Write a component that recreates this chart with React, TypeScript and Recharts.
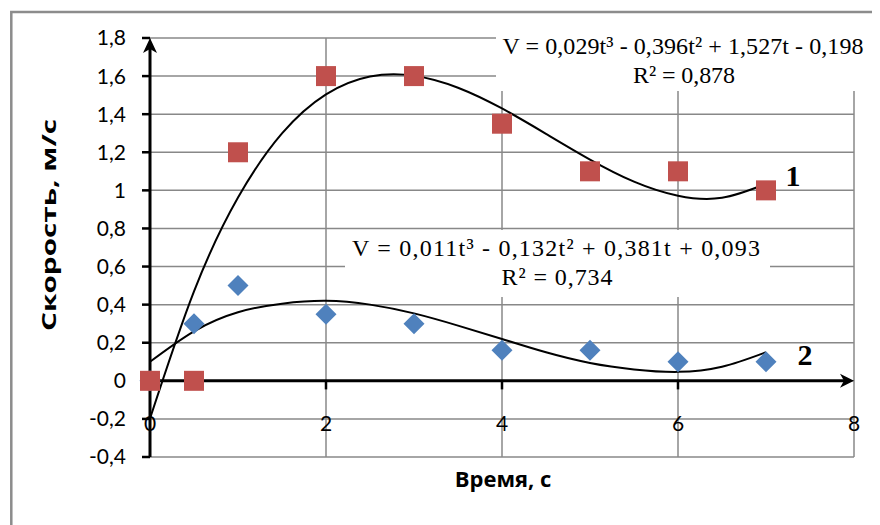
import { ComposedChart, Scatter, Line, XAxis, YAxis, CartesianGrid, ReferenceLine } from 'recharts';

// measured points (t, s -> V, m/s)
const times = [0, 0.5, 1, 2, 3, 4, 5, 6, 7];
const speed1 = [0, 0, 1.2, 1.6, 1.6, 1.35, 1.1, 1.1, 1.0];
const speed2 = [0, 0.3, 0.5, 0.35, 0.3, 0.16, 0.16, 0.1, 0.1];

// trend lines
const trendTimes = [0, 0.5, 1, 1.5, 2, 2.5, 3, 3.5, 4, 4.5, 5, 5.5, 6, 6.5, 7];
const trend1 = [-0.198, 0.47, 0.962, 1.299, 1.504, 1.598, 1.602, 1.539, 1.43, 1.297, 1.162, 1.046, 0.972, 0.961, 1.034];
const trend2 = [0.1, 0.26, 0.36, 0.405, 0.42, 0.4, 0.354, 0.29, 0.22, 0.15, 0.094, 0.06, 0.047, 0.074, 0.15];

const xTicks = [0, 2, 4, 6, 8];
const axisMarks = [2, 4, 6];
const yTicks = [-0.4, -0.2, 0, 0.2, 0.4, 0.6, 0.8, 1, 1.2, 1.4, 1.6, 1.8];

const eq1 = ['V = 0,029t³ - 0,396t² + 1,527t - 0,198', 'R² = 0,878'];
const eq2 = ['V = 0,011t³ - 0,132t² + 0,381t + 0,093', 'R² = 0,734'];

const RED = '#C0504D';
const BLUE = '#4F81BD';
const GRID = '#888888';
const SANS = "Lato, 'Open Sans', sans-serif";
const SERIF = "'Liberation Serif', 'Times New Roman', serif";

const series1 = times.map((t, i) => ({ t, v: speed1[i] }));
const series2 = times.map((t, i) => ({ t, v: speed2[i] }));
const trendData1 = trendTimes.map((t, i) => ({ t, v: trend1[i] }));
const trendData2 = trendTimes.map((t, i) => ({ t, v: trend2[i] }));

const fmt = (v: number) => String(Math.round(v * 10) / 10).replace('.', ',');

const Square = ({ cx, cy }: any) => <rect x={cx - 10} y={cy - 10} width={20} height={20} fill={RED} />;

const Diamond = ({ cx, cy }: any) => (
  <polygon points={`${cx},${cy - 10.5} ${cx + 10.5},${cy} ${cx},${cy + 10.5} ${cx - 10.5},${cy}`} fill={BLUE} />
);

const XTick = ({ x, y, payload }: any) => (
  <text x={x} y={y - 35} textAnchor="middle" dominantBaseline="central" fontSize={21} fontFamily={SANS} fill="#000">
    {payload.value}
  </text>
);

// axis line with a stealth arrow at its far end
const HArrow = (props: any) => {
  const { x1, x2, y1 } = props;
  const left = Math.min(x1, x2);
  const tip = Math.max(x1, x2);
  return (
    <g>
      <line x1={left} y1={y1} x2={tip - 6} y2={y1} stroke="#000" strokeWidth={3} />
      <polygon points={`${tip},${y1} ${tip - 14},${y1 - 7} ${tip - 10},${y1} ${tip - 14},${y1 + 7}`} fill="#000" />
    </g>
  );
};

const VArrow = (props: any) => {
  const { x1, y1, y2 } = props;
  const tip = Math.min(y1, y2);
  const bottom = Math.max(y1, y2);
  return (
    <g>
      <line x1={x1} y1={bottom} x2={x1} y2={tip + 6} stroke="#000" strokeWidth={3} />
      <polygon points={`${x1},${tip} ${x1 - 7},${tip + 15} ${x1},${tip + 11} ${x1 + 7},${tip + 15}`} fill="#000" />
    </g>
  );
};

export default function App() {
  return (
    <div style={{ position: 'relative', width: 872, height: 517, overflow: 'hidden', background: '#fff' }}>
      <ComposedChart width={872} height={517} margin={{ top: 30, right: 26, bottom: 0, left: 0 }}>
        <CartesianGrid stroke={GRID} strokeWidth={1.5} />
        <XAxis
          dataKey="t"
          type="number"
          domain={[0, 8]}
          ticks={xTicks}
          height={68}
          axisLine={false}
          tickLine={false}
          tickSize={0}
          tickMargin={0}
          tick={<XTick />}
        />
        <YAxis
          type="number"
          domain={[-0.4, 1.8]}
          ticks={yTicks}
          width={142}
          axisLine={false}
          tickLine={{ stroke: '#000', strokeWidth: 2.5 }}
          tickSize={8}
          tickMargin={16}
          tickFormatter={fmt}
          tick={{ fontSize: 21, fill: '#000', fontFamily: SANS }}
        />
        {axisMarks.map((t) => (
          <ReferenceLine
            key={t}
            segment={[{ x: t, y: 0 }, { x: t, y: -0.045 }]}
            stroke="#000"
            strokeWidth={2.5}
          />
        ))}
        <ReferenceLine y={0} shape={<HArrow />} />
        <ReferenceLine x={0} shape={<VArrow />} />
        <Line data={trendData1} dataKey="v" type="natural" stroke="#000" strokeWidth={2} dot={false} isAnimationActive={false} />
        <Line data={trendData2} dataKey="v" type="natural" stroke="#000" strokeWidth={2} dot={false} isAnimationActive={false} />
        <Scatter data={series2} dataKey="v" shape={<Diamond />} isAnimationActive={false} />
        <Scatter data={series1} dataKey="v" shape={<Square />} isAnimationActive={false} />
      </ComposedChart>

      <svg width={872} height={517} style={{ position: 'absolute', left: 0, top: 0, pointerEvents: 'none' }}>
        <path d="M3.3,517 L3.3,4 L872,4" fill="none" stroke="#8c8c8c" strokeWidth={2.5} />

        <rect x={488} y={20} width={379} height={63} fill="#fff" />
        <text x={675} y={46} textAnchor="middle" fontSize={24} fontFamily={SERIF} fill="#000" textLength={361} lengthAdjust="spacing">{eq1[0]}</text>
        <text x={676} y={75} textAnchor="middle" fontSize={24} fontFamily={SERIF} fill="#000" textLength={102} lengthAdjust="spacing">{eq1[1]}</text>

        <rect x={337} y={222} width={425} height={67} fill="#fff" />
        <text x={548} y={248} textAnchor="middle" fontSize={24} fontFamily={SERIF} fill="#000" textLength={408} lengthAdjust="spacing">{eq2[0]}</text>
        <text x={549} y={277} textAnchor="middle" fontSize={24} fontFamily={SERIF} fill="#000" textLength={111} lengthAdjust="spacing">{eq2[1]}</text>

        <text x={785} y={178} textAnchor="middle" fontSize={30} fontWeight="bold" fontFamily={SERIF} fill="#000">1</text>
        <text x={797} y={357} textAnchor="middle" fontSize={30} fontWeight="bold" fontFamily={SERIF} fill="#000">2</text>

        <text x={495} y={479} textAnchor="middle" fontSize={22} fontWeight="bold" fontFamily="'Open Sans', sans-serif" fill="#000">
          Время, с
        </text>
        <text
          x={40}
          y={217}
          transform="rotate(-90 40 217)"
          textAnchor="middle"
          dominantBaseline="central"
          fontSize={20}
          fontWeight="bold"
          fontFamily="'Open Sans', sans-serif"
          fill="#000"
          textLength={212}
          lengthAdjust="spacingAndGlyphs"
        >
          Скорость, м/с
        </text>
      </svg>
    </div>
  );
}
